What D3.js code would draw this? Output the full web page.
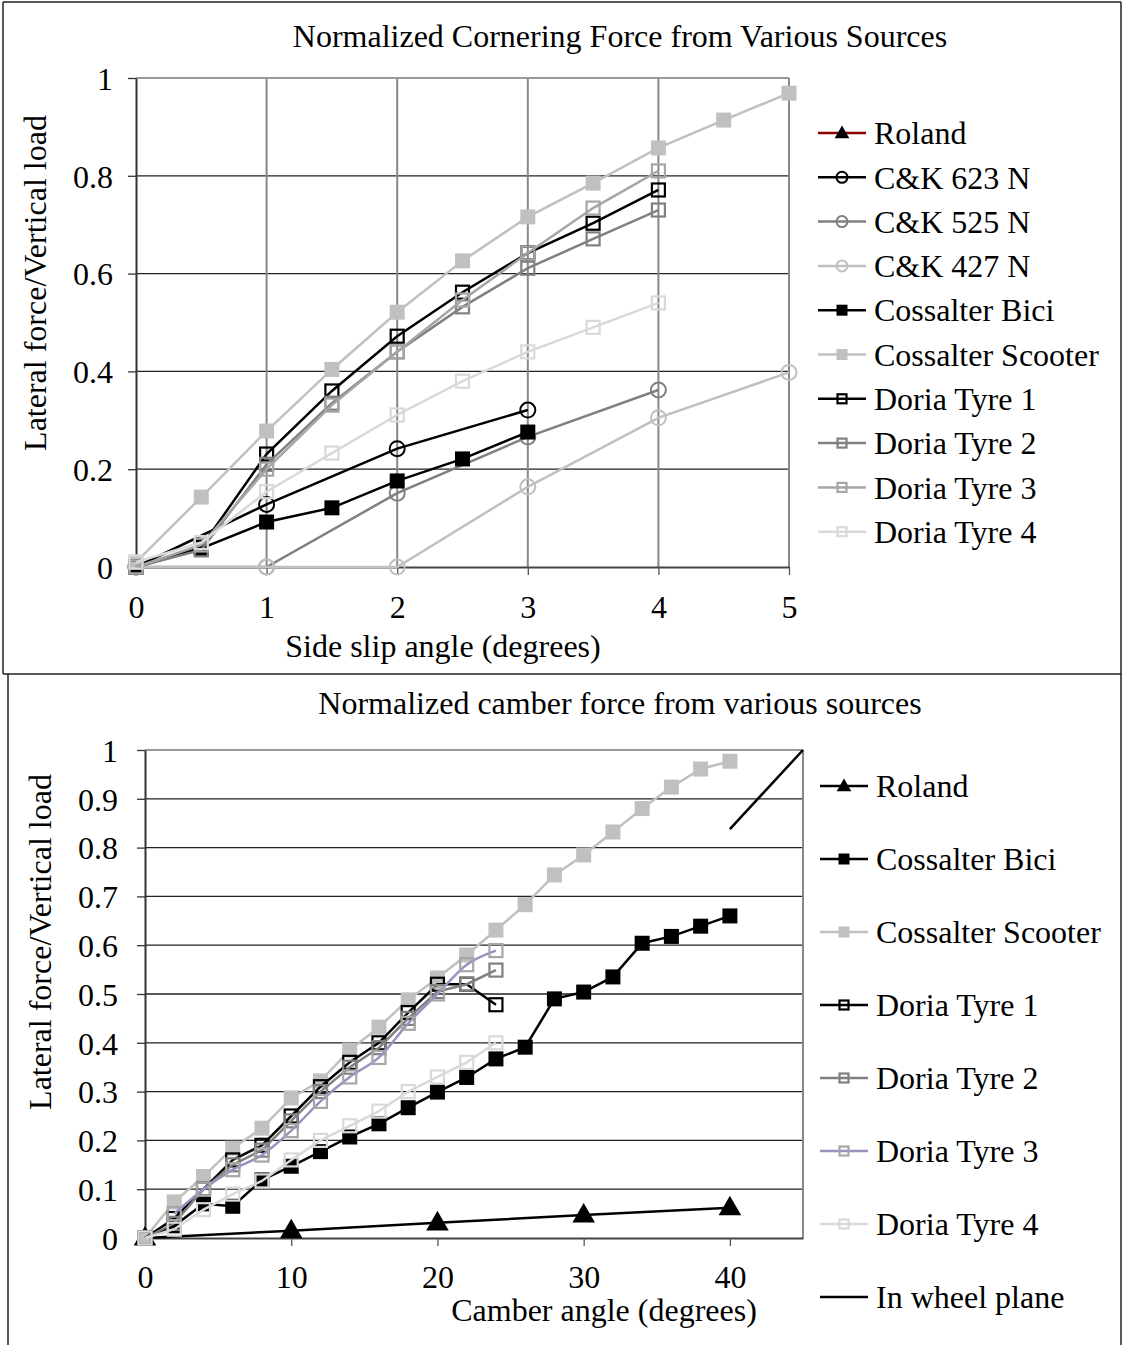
<!DOCTYPE html>
<html>
<head>
<script src="https://cdn.jsdelivr.net/npm/d3@7"></script>
<style>
body { margin: 0; background: #fff; }
svg text { font-family: "Liberation Serif", "Times New Roman", serif; fill: #000; }
</style>
</head>
<body>
<svg width="1122" height="1345"></svg>
<script>

// ---- top chart data: normalized cornering force ----
var slipHalf = [0, 0.5, 1, 1.5, 2, 2.5, 3, 3.5, 4, 4.5, 5];
var slipWhole = [0, 1, 2, 3, 4, 5];
var slipTicks = [0, 1, 2, 3, 4, 5];
var cornerTicks = [0, 0.2, 0.4, 0.6, 0.8, 1];

var ck623 = [0, 0.128, 0.242, 0.321];
var ck525 = [0, 0, 0.151, 0.266, 0.362];
var ck427 = [0, 0, 0, 0.164, 0.305, 0.398];
var bikeSlip = [0, 0.038, 0.092, 0.121, 0.176, 0.221, 0.276];
var scooterSlip = [0.01, 0.143, 0.278, 0.404, 0.521, 0.626, 0.716, 0.785, 0.857, 0.914, 0.969];
var doria1Slip = [0, 0.041, 0.231, 0.36, 0.472, 0.562, 0.642, 0.703, 0.771];
var doria2Slip = [0, 0.035, 0.21, 0.335, 0.44, 0.532, 0.611, 0.671, 0.73];
var doria3Slip = [0, 0.045, 0.2, 0.331, 0.44, 0.546, 0.642, 0.734, 0.81];
var doria4Slip = [0.01, 0.05, 0.154, 0.233, 0.311, 0.38, 0.44, 0.49, 0.54];

// ---- bottom chart data: normalized camber force ----
var camberAngles = [0, 2, 4, 6, 8, 10, 12, 14, 16, 18, 20, 22, 24, 26, 28, 30, 32, 34, 36, 38, 40];
var rolandAngles = [0, 10, 20, 30, 40];
var wheelPlaneAngles = [40, 45];
var camberXTicks = [0, 10, 20, 30, 40];
var camberYTicks = [0, 0.1, 0.2, 0.3, 0.4, 0.5, 0.6, 0.7, 0.8, 0.9, 1];

var rolandCamber = [0, 0.015, 0.031, 0.047, 0.062];
var bikeCamber = [0, 0.025, 0.07, 0.065, 0.119, 0.147, 0.177, 0.207, 0.234, 0.267, 0.299, 0.329, 0.367, 0.391, 0.49, 0.504, 0.535, 0.604, 0.618, 0.639, 0.66];
var scooterCamber = [0, 0.074, 0.126, 0.184, 0.225, 0.287, 0.322, 0.385, 0.432, 0.488, 0.533, 0.58, 0.631, 0.683, 0.744, 0.785, 0.832, 0.88, 0.924, 0.961, 0.977];
var doria1Camber = [0, 0.04, 0.1, 0.16, 0.19, 0.25, 0.31, 0.36, 0.4, 0.462, 0.52, 0.52, 0.478];
var doria2Camber = [0, 0.03, 0.1, 0.15, 0.18, 0.24, 0.3, 0.35, 0.39, 0.45, 0.505, 0.52, 0.549];
var doria3Camber = [null, 0.05, 0.1, 0.14, 0.17, 0.22, 0.28, 0.33, 0.37, 0.44, 0.5, 0.56, 0.589];
var doria4Camber = [0, 0.018, 0.058, 0.09, 0.117, 0.16, 0.2, 0.23, 0.26, 0.3, 0.33, 0.36, 0.4];
var wheelPlane = [0.838, 1.0];

var FONT = "32px";

function zipXY(xs, ys) {
	return ys.map(function(y, i) { return [xs[i], y]; });
}

var svg = d3.select("svg");

// panel frame
svg.append("g").attr("class", "frame").selectAll("line")
	.data([[3, 2, 1121, 2], [3, 2, 3, 674], [1121, 2, 1121, 1345], [3, 674, 1121, 674], [8, 674, 8, 1345]])
	.enter().append("line")
	.attr("x1", function(d) { return d[0]; }).attr("y1", function(d) { return d[1]; })
	.attr("x2", function(d) { return d[2]; }).attr("y2", function(d) { return d[3]; })
	.attr("stroke", "#222").attr("stroke-width", 1.5);

function drawMarker(g, shape, x, y, color, size) {
	if (shape == "circle") {
		g.append("circle").attr("cx", x).attr("cy", y).attr("r", size / 2)
			.attr("fill", "none").attr("stroke", color).attr("stroke-width", 2);
	} else if (shape == "square") {
		g.append("rect").attr("x", x - size / 2).attr("y", y - size / 2)
			.attr("width", size).attr("height", size).attr("fill", color);
	} else if (shape == "openSquare") {
		g.append("rect").attr("x", x - size / 2 + 1).attr("y", y - size / 2 + 1)
			.attr("width", size - 2).attr("height", size - 2)
			.attr("fill", "none").attr("stroke", color).attr("stroke-width", 2.2);
	} else if (shape == "triangle") {
		g.append("path")
			.attr("d", d3.symbol().type(d3.symbolTriangle).size(size * size * 0.55)())
			.attr("transform", "translate(" + x + "," + (y + 1) + ")")
			.attr("fill", color);
	}
}

function drawChart(cfg) {
	var x = d3.scaleLinear().domain(cfg.xDomain).range([cfg.left, cfg.right]);
	var y = d3.scaleLinear().domain(cfg.yDomain).range([cfg.bottom, cfg.top]);
	var g = svg.append("g");

	// horizontal gridlines
	g.append("g").selectAll("line").data(cfg.yTicks.slice(1, -1)).enter().append("line")
		.attr("x1", cfg.left).attr("x2", cfg.right)
		.attr("y1", function(d) { return y(d); }).attr("y2", function(d) { return y(d); })
		.attr("stroke", "#222").attr("stroke-width", 1.3);

	if (cfg.vGrid) {
		g.append("g").selectAll("line").data(cfg.xTicks.slice(1)).enter().append("line")
			.attr("y1", cfg.top).attr("y2", cfg.bottom)
			.attr("x1", function(d) { return x(d); }).attr("x2", function(d) { return x(d); })
			.attr("stroke", "#888").attr("stroke-width", 2);
	}

	// plot border top/right
	g.append("line").attr("x1", cfg.left).attr("x2", cfg.right).attr("y1", cfg.top).attr("y2", cfg.top)
		.attr("stroke", "#999").attr("stroke-width", 2);
	g.append("line").attr("x1", cfg.right).attr("x2", cfg.right).attr("y1", cfg.top).attr("y2", cfg.bottom)
		.attr("stroke", "#888").attr("stroke-width", 2);

	// axes
	var yAxis = d3.axisLeft(y).tickValues(cfg.yTicks).tickSize(8).tickSizeOuter(0)
		.tickFormat(function(d) { return d3.format("")(+d.toFixed(1)); });
	var yg = g.append("g").attr("transform", "translate(" + cfg.left + ",0)").call(yAxis);
	yg.attr("font-family", null).attr("font-size", null);
	yg.select(".domain").attr("stroke", "#333").attr("stroke-width", 2);
	yg.selectAll(".tick line").attr("stroke", "#333").attr("stroke-width", 1.3);
	yg.selectAll(".tick text").attr("x", cfg.yLabelX - cfg.left).attr("dy", "0.35em")
		.attr("font-size", FONT);

	var xAxis = d3.axisBottom(x).tickValues(cfg.xTicks).tickSize(8).tickSizeOuter(0).tickFormat(d3.format("d"));
	var xg = g.append("g").attr("transform", "translate(0," + cfg.bottom + ")").call(xAxis);
	xg.attr("font-family", null).attr("font-size", null);
	xg.select(".domain").attr("stroke", "#444").attr("stroke-width", 2);
	xg.selectAll(".tick line").attr("stroke", "#555").attr("stroke-width", 1.3);
	xg.selectAll(".tick text").attr("y", cfg.xLabelY - cfg.bottom).attr("dy", "0.35em")
		.attr("font-size", FONT);

	// titles
	g.append("text").attr("x", cfg.titleX).attr("y", cfg.titleY).attr("text-anchor", "middle")
		.attr("font-size", FONT).text(cfg.title);
	g.append("text").attr("x", cfg.xTitleX).attr("y", cfg.xTitleY).attr("text-anchor", "middle")
		.attr("font-size", FONT).text(cfg.xTitle);
	g.append("text").attr("transform", "translate(" + cfg.yTitleX + "," + cfg.yTitleY + ") rotate(-90)")
		.attr("text-anchor", "middle").attr("font-size", FONT).text(cfg.yTitle);

	// series
	var line = d3.line()
		.defined(function(d) { return d[1] != null; })
		.x(function(d) { return x(d[0]); })
		.y(function(d) { return y(d[1]); });

	cfg.series.forEach(function(s) {
		if (!s.points) return;
		var sg = g.append("g");
		sg.append("path").datum(s.points)
			.attr("d", line.curve(s.smooth ? d3.curveMonotoneX : d3.curveLinear))
			.attr("fill", "none").attr("stroke", s.line).attr("stroke-width", 2.5);
		if (s.shape) {
			s.points.forEach(function(p) {
				if (p[1] == null) return;
				drawMarker(sg, s.shape, x(p[0]), y(p[1]), s.marker, s.size);
			});
		}
	});

	// legend
	var lg = g.append("g");
	cfg.series.forEach(function(s, i) {
		var ly = cfg.legendY + i * cfg.legendStep;
		lg.append("line").attr("x1", cfg.legendX).attr("x2", cfg.legendX + 48)
			.attr("y1", ly).attr("y2", ly).attr("stroke", s.line).attr("stroke-width", 2.5);
		if (s.shape) drawMarker(lg, s.shape, cfg.legendX + 24, ly, s.marker, s.shape == "triangle" ? 13 : 11);
		lg.append("text").attr("x", cfg.legendX + 56).attr("y", ly).attr("dy", "0.35em")
			.attr("font-size", FONT).text(s.name);
	});
}

drawChart({
	title: "Normalized Cornering Force from Various Sources",
	xTitle: "Side slip angle (degrees)",
	yTitle: "Lateral force/Vertical load",
	xDomain: [0, 5], yDomain: [0, 1],
	left: 136, right: 789, top: 78, bottom: 567,
	xTicks: slipTicks, yTicks: cornerTicks, vGrid: true,
	yLabelX: 113, xLabelY: 607,
	titleX: 620, titleY: 47, xTitleX: 443, xTitleY: 657, yTitleX: 46, yTitleY: 283,
	legendX: 818, legendY: 133, legendStep: 44.3,
	series: [
		{ name: "Roland", line: "#8b0000", marker: "#000", shape: "triangle", size: 18 },
		{ name: "C&K 623 N", line: "#000", marker: "#000", shape: "circle", size: 15, points: zipXY(slipWhole, ck623) },
		{ name: "C&K 525 N", line: "#808080", marker: "#808080", shape: "circle", size: 15, points: zipXY(slipWhole, ck525) },
		{ name: "C&K 427 N", line: "#c0c0c0", marker: "#c0c0c0", shape: "circle", size: 15, points: zipXY(slipWhole, ck427) },
		{ name: "Cossalter Bici", line: "#000", marker: "#000", shape: "square", size: 15, points: zipXY(slipHalf, bikeSlip) },
		{ name: "Cossalter Scooter", line: "#c0c0c0", marker: "#c0c0c0", shape: "square", size: 15, points: zipXY(slipHalf, scooterSlip) },
		{ name: "Doria Tyre 1", line: "#000", marker: "#000", shape: "openSquare", size: 15, points: zipXY(slipHalf, doria1Slip) },
		{ name: "Doria Tyre 2", line: "#808080", marker: "#808080", shape: "openSquare", size: 15, points: zipXY(slipHalf, doria2Slip) },
		{ name: "Doria Tyre 3", line: "#a6a6a6", marker: "#a6a6a6", shape: "openSquare", size: 15, points: zipXY(slipHalf, doria3Slip) },
		{ name: "Doria Tyre 4", line: "#d9d9d9", marker: "#d9d9d9", shape: "openSquare", size: 15, points: zipXY(slipHalf, doria4Slip) }
	]
});

drawChart({
	title: "Normalized camber force from various sources",
	xTitle: "Camber angle (degrees)",
	yTitle: "Lateral force/Vertical load",
	xDomain: [0, 45], yDomain: [0, 1],
	left: 145, right: 803, top: 750, bottom: 1238,
	xTicks: camberXTicks, yTicks: camberYTicks, vGrid: false,
	yLabelX: 118, xLabelY: 1277,
	titleX: 620, titleY: 714, xTitleX: 604, xTitleY: 1321, yTitleX: 51, yTitleY: 942,
	legendX: 820, legendY: 786, legendStep: 73,
	series: [
		{ name: "Roland", line: "#000", marker: "#000", shape: "triangle", size: 20, points: zipXY(rolandAngles, rolandCamber) },
		{ name: "Cossalter Bici", line: "#000", marker: "#000", shape: "square", size: 15, points: zipXY(camberAngles, bikeCamber) },
		{ name: "Cossalter Scooter", line: "#c0c0c0", marker: "#c0c0c0", shape: "square", size: 15, points: zipXY(camberAngles, scooterCamber) },
		{ name: "Doria Tyre 1", line: "#000", marker: "#000", shape: "openSquare", size: 15, points: zipXY(camberAngles, doria1Camber) },
		{ name: "Doria Tyre 2", line: "#808080", marker: "#808080", shape: "openSquare", size: 15, points: zipXY(camberAngles, doria2Camber) },
		{ name: "Doria Tyre 3", line: "#9d8fc0", marker: "#a6a6a6", shape: "openSquare", size: 15, smooth: true, points: zipXY(camberAngles, doria3Camber) },
		{ name: "Doria Tyre 4", line: "#d9d9d9", marker: "#d9d9d9", shape: "openSquare", size: 15, points: zipXY(camberAngles, doria4Camber) },
		{ name: "In wheel plane", line: "#000", points: zipXY(wheelPlaneAngles, wheelPlane) }
	]
});
</script>
</body>
</html>
